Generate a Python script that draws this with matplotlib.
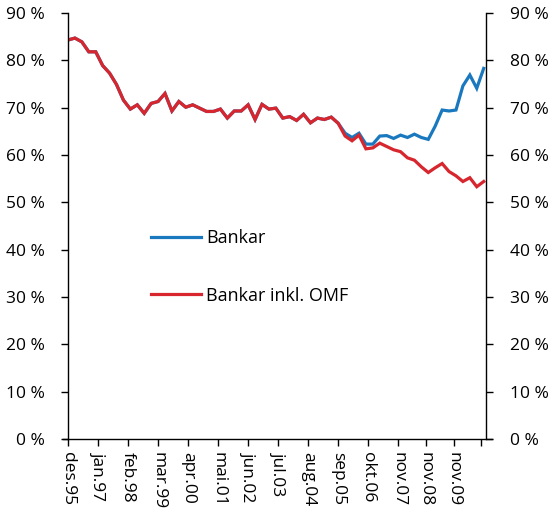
import matplotlib
matplotlib.use("Agg")
import matplotlib.pyplot as plt

plt.rcParams['font.family'] = ['Open Sans', 'DejaVu Sans']

# Quarterly observations, des.95 onwards (months since des.95 = 3*i)
bankar_inkl_omf = [84.3, 84.7, 83.9, 81.8, 81.8, 78.9, 77.3, 74.9, 71.6, 69.7,
                   70.6, 68.8, 70.9, 71.3, 73.0, 69.3, 71.3, 70.1, 70.6, 69.9,
                   69.2, 69.2, 69.7, 67.8, 69.3, 69.3, 70.6, 67.5, 70.7, 69.7,
                   69.9, 67.8, 68.1, 67.3, 68.6, 66.8, 67.8, 67.5, 68.0, 66.7,
                   64.0, 63.0, 64.2, 61.3, 61.5, 62.5, 61.8, 61.1, 60.7, 59.4,
                   58.9, 57.5, 56.3, 57.3, 58.2, 56.5, 55.6, 54.4, 55.2, 53.3,
                   54.4]
bankar = [84.3, 84.7, 83.9, 81.8, 81.8, 78.9, 77.3, 74.9, 71.6, 69.7,
          70.6, 68.8, 70.9, 71.3, 73.0, 69.3, 71.3, 70.1, 70.6, 69.9,
          69.2, 69.2, 69.7, 67.8, 69.3, 69.3, 70.6, 67.5, 70.7, 69.7,
          69.9, 67.8, 68.1, 67.3, 68.6, 66.8, 67.8, 67.5, 68.0, 66.7,
          64.6, 63.7, 64.6, 62.3, 62.3, 64.0, 64.1, 63.5, 64.2, 63.7,
          64.4, 63.7, 63.3, 66.1, 69.5, 69.3, 69.5, 74.6, 76.9, 74.1,
          78.3]
months = [3 * i for i in range(len(bankar))]

tick_months = [0, 13, 26, 39, 52, 65, 78, 91, 104, 117, 130, 143, 155, 167, 179]
tick_labels = ["des.95", "jan.97", "feb.98", "mar.99", "apr.00", "mai.01",
               "jun.02", "jul.03", "aug.04", "sep.05", "okt.06", "nov.07",
               "nov.08", "nov.09", ""]
y_ticks = list(range(0, 91, 10))
y_labels = [f"{v} %" for v in y_ticks]

blue = "#1a78bf"
red = "#d7262e"

fig = plt.figure(figsize=(5.5, 5.23), dpi=100)
ax = fig.add_axes([68/550, 1-439/523, (486-68)/550, (439-13)/523])

ax.plot(months, bankar, color=blue, lw=2.3, label="Bankar", solid_joinstyle='miter')
ax.plot(months, bankar_inkl_omf, color=red, lw=2.3, label="Bankar inkl. OMF", solid_joinstyle='miter')

ax.set_xlim(0, 181)
ax.set_ylim(0, 90)
ax.spines['top'].set_visible(False)
for s in ['left', 'right']:
    ax.spines[s].set_linewidth(1.0)
    ax.spines[s].set_color('black')
ax.spines['bottom'].set_visible(False)
ax.plot([-0.012, 1.015], [0, 0], transform=ax.transAxes, color='black', lw=1.0, clip_on=False)

ax.set_xticks(tick_months)
ax.set_xticklabels(tick_labels, rotation=270, fontsize=12.5)
ax.tick_params(axis='x', direction='out', length=5, width=1, pad=4)

ax.set_yticks(y_ticks)
ax.set_yticklabels(y_labels, fontsize=12.5)
ax.tick_params(axis='y', direction='out', length=5, width=1, left=True, right=True,
               labelleft=True, labelright=True, pad=12)

leg = ax.legend(loc='upper left', bbox_to_anchor=((151-68)/418, (439-229)/426),
                frameon=False, fontsize=13, handlelength=2.77, handletextpad=0.28,
                labelspacing=2.2, borderpad=0, borderaxespad=0)

fig.savefig("out.png", dpi=100)
